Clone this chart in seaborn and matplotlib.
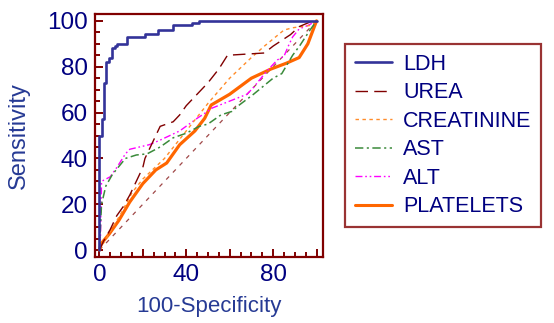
import matplotlib
matplotlib.use("Agg")
import matplotlib.pyplot as plt
from matplotlib.lines import Line2D
from matplotlib.ticker import MultipleLocator, FixedLocator, FixedFormatter
import seaborn as sns

# ROC curves: (100 - specificity, sensitivity) pairs
ldh_x = [0, 0, 1, 1, 2, 2, 3, 3, 4.4, 4.4, 6, 6, 7, 7, 8, 8, 12.8, 12.8, 21, 21, 27, 27, 34, 34, 42.5, 42.5, 46, 46, 100]
ldh_y = [0, 50, 50, 57, 57, 73, 73, 82, 82, 84, 84, 88, 88, 89, 89, 90, 90, 93, 93, 94.5, 94.5, 96, 96, 98, 98, 99, 99, 100, 100]

urea_x = [0, 2, 5, 8, 11, 14, 16, 20, 21, 25, 28, 34, 37, 40, 45, 50, 55, 59, 76, 80, 88, 92, 97, 100]
urea_y = [0, 4, 9, 15, 19, 24, 28, 36, 40, 48, 54, 56, 59, 63, 68, 73, 79, 85, 86, 89, 94, 97.5, 99.5, 100]

creat_x = [0, 5, 10, 15, 20, 30, 40, 50, 60, 70, 76, 85, 89, 97, 100]
creat_y = [0, 8, 16, 25, 31, 40, 52, 64, 75, 84, 89, 96, 97, 98, 100]

ast_x = [0, 0.5, 1, 3, 6, 12, 17, 22, 28, 34, 40, 46, 50, 56, 61, 64, 71, 80, 84, 89, 92.5, 97, 100]
ast_y = [0, 10, 20, 28, 33, 40, 41.5, 42, 45, 49, 51, 54, 55, 59, 60.5, 63, 68, 75, 77, 85, 89.5, 96, 100]

alt_x = [0, 0.5, 1, 5, 8, 10, 12, 14, 23, 28, 37, 45, 49, 52, 60, 68, 71, 77, 82, 85, 87, 89, 92, 96, 100]
alt_y = [0, 5, 30, 32, 36, 39, 42, 44, 46, 48, 52, 57.5, 60, 62, 65, 68, 71, 78, 83, 84.5, 89, 93, 96.5, 98, 100]

plt_x = [0, 1, 4.5, 9, 14, 20, 26, 31, 37, 44, 48.5, 51.5, 60, 70, 79, 86, 92, 96, 100]
plt_y = [0, 3, 7, 13, 21, 29, 35, 38, 46, 52, 57.5, 63.3, 68, 75, 79, 81.5, 84, 90, 100]

diag = [0, 100]

labels = ["LDH", "UREA", "CREATININE", "AST", "ALT", "PLATELETS"]
colors = ["#333399", "#800000", "#ff8c2a", "#3a8a3a", "#ff00ff", "#ff6600"]
widths = [1.9, 1.0, 1.0, 1.1, 1.0, 2.3]
styles = ["-", (0, (9, 4.5)), (0, (2.5, 2.5)), (0, (6, 2.5, 1.5, 2.5)),
          (0, (5, 2, 1.2, 2, 1.2, 2)), "-"]
series = [(ldh_x, ldh_y), (urea_x, urea_y), (creat_x, creat_y),
          (ast_x, ast_y), (alt_x, alt_y), (plt_x, plt_y)]

sns.set_theme(style="white")
plt.rcParams["font.family"] = ["Liberation Sans", "DejaVu Sans"]
plt.rcParams["lines.scale_dashes"] = False

navy = "#000080"
frame = "#800000"

fig = plt.figure(figsize=(5.54, 3.23), dpi=100)
ax = fig.add_axes([0.1715, 0.2043, 0.4116, 0.7523])

# chance diagonal
sns.lineplot(x=diag, y=diag, ax=ax, color="#a04848", lw=0.9,
             linestyle=(0, (3, 4)), estimator=None, sort=False, legend=False)

draw_order = [5, 4, 3, 2, 1, 0]
for i in draw_order:
    xs, ys = series[i]
    sns.lineplot(x=xs, y=ys, ax=ax, color=colors[i], lw=widths[i],
                 linestyle=styles[i], estimator=None, sort=False, legend=False)

ax.set_xlim(-2, 103)
ax.set_ylim(-3, 103)

ax.xaxis.set_major_locator(FixedLocator([0, 20, 40, 60, 80, 100]))
ax.xaxis.set_major_formatter(FixedFormatter(["0", "", "40", "", "80", ""]))
ax.xaxis.set_minor_locator(MultipleLocator(5))
ax.yaxis.set_major_locator(MultipleLocator(20))
ax.yaxis.set_minor_locator(MultipleLocator(5))

ax.tick_params(which="both", direction="in", color=frame, width=1.4,
               bottom=True, left=True, top=False, right=False)
ax.tick_params(which="major", length=6, labelsize=17.5, labelcolor=navy, pad=5)
ax.tick_params(which="minor", length=3.5)

for sp in ax.spines.values():
    sp.set_color(frame)
    sp.set_linewidth(1.6)

ax.set_xlabel("100-Specificity", fontsize=16, color="#263a94")
ax.set_ylabel("Sensitivity", fontsize=17, color="#263a94")
ax.xaxis.set_label_coords(0.5, -0.16)
ax.yaxis.set_label_coords(-0.285, 0.5)

handles = [Line2D([], [], color=colors[i], lw=widths[i] if i != 5 else 2.2,
                  linestyle=styles[i]) for i in range(6)]
leg = fig.legend(handles, labels, loc="upper left",
                 bbox_to_anchor=(345 / 554, 1 - 44 / 323),
                 fontsize=15.5, frameon=True, fancybox=False, shadow=False,
                 handlelength=1.75, handletextpad=0.5, labelspacing=0.35,
                 borderpad=0.45, borderaxespad=0)
leg.get_frame().set_edgecolor(frame)
leg.get_frame().set_linewidth(1.6)
for t in leg.get_texts():
    t.set_color(navy)

fig.savefig("out.png", dpi=100)
